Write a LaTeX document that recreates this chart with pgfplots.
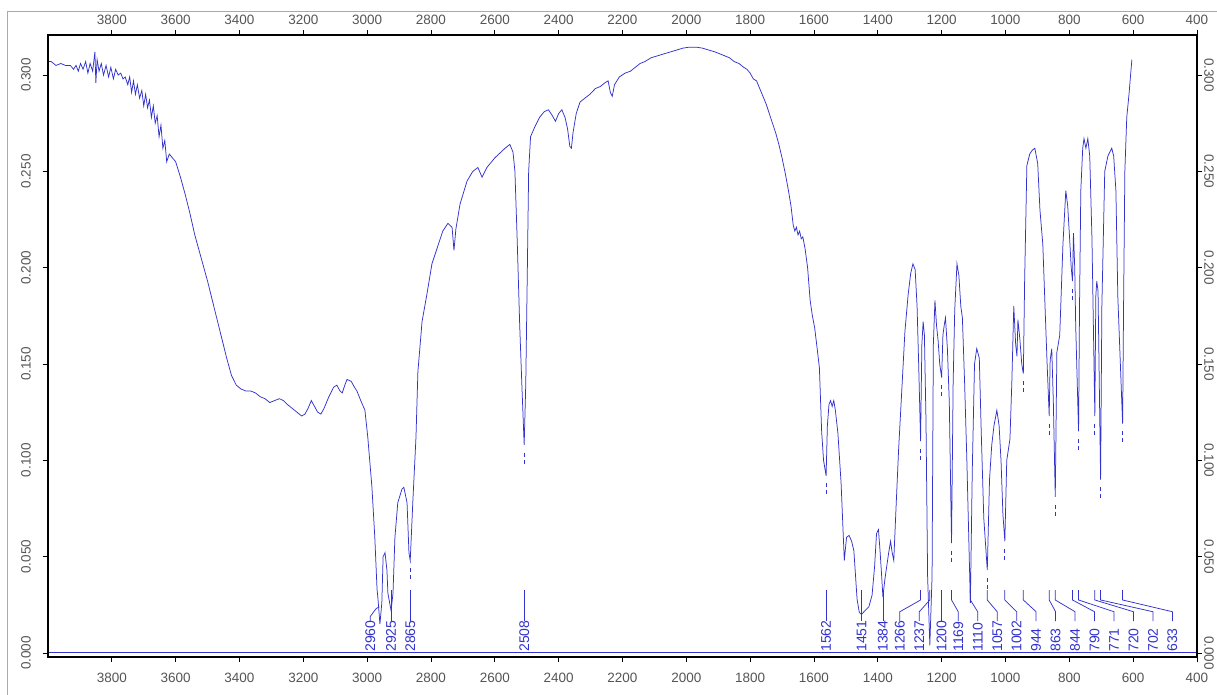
\documentclass[border=0pt]{standalone}
\usepackage{pgfplots}
\pgfplotsset{compat=1.18}
\usepackage{pgfplotstable}
\usepackage{fontspec}
\setmainfont{Liberation Sans}

\definecolor{specblue}{RGB}{50,50,205}
\definecolor{ticktext}{RGB}{85,85,85}
\definecolor{framegray}{RGB}{170,170,170}

% IR spectrum: wavenumber (cm^-1) and absorbance
\pgfplotstableread{
wn A
4000 0.307
3990 0.307
3975 0.305
3960 0.306
3945 0.305
3930 0.305
3920 0.303
3912 0.305
3905 0.302
3898 0.306
3890 0.303
3882 0.307
3875 0.301
3868 0.306
3860 0.302
3853 0.312
3850 0.296
3846 0.308
3840 0.302
3833 0.306
3826 0.300
3818 0.305
3810 0.299
3803 0.304
3795 0.298
3788 0.303
3780 0.300
3772 0.301
3765 0.298
3758 0.299
3750 0.295
3744 0.299
3738 0.291
3732 0.297
3726 0.290
3720 0.295
3713 0.288
3706 0.292
3700 0.284
3694 0.290
3688 0.283
3682 0.287
3676 0.278
3670 0.284
3664 0.275
3658 0.279
3652 0.268
3646 0.274
3640 0.262
3634 0.266
3628 0.255
3620 0.259
3610 0.257
3600 0.255
3585 0.247
3570 0.238
3555 0.228
3540 0.217
3525 0.208
3510 0.199
3500 0.193
3485 0.183
3470 0.173
3455 0.163
3440 0.153
3425 0.144
3410 0.139
3395 0.137
3380 0.136
3365 0.136
3350 0.135
3335 0.133
3320 0.132
3305 0.130
3290 0.131
3275 0.132
3262 0.131
3250 0.129
3235 0.127
3220 0.125
3205 0.123
3195 0.124
3185 0.127
3175 0.131
3165 0.128
3155 0.125
3145 0.124
3135 0.127
3120 0.133
3105 0.138
3095 0.139
3085 0.136
3078 0.135
3070 0.139
3063 0.142
3050 0.141
3040 0.138
3032 0.136
3020 0.131
3007 0.126
2998 0.112
2985 0.086
2976 0.060
2969 0.033
2966 0.028
2960 0.015
2954 0.026
2950 0.050
2944 0.052
2938 0.043
2935 0.031
2925 0.022
2919 0.031
2913 0.060
2904 0.078
2891 0.085
2885 0.086
2875 0.078
2869 0.052
2865 0.048
2857 0.078
2847 0.112
2841 0.146
2828 0.172
2813 0.186
2797 0.202
2781 0.210
2763 0.219
2747 0.223
2734 0.221
2728 0.209
2722 0.220
2709 0.233
2687 0.245
2669 0.250
2653 0.252
2640 0.247
2625 0.252
2600 0.257
2568 0.262
2553 0.264
2543 0.260
2537 0.250
2530 0.215
2522 0.170
2515 0.138
2508 0.108
2503 0.140
2498 0.200
2494 0.250
2488 0.268
2475 0.273
2460 0.278
2445 0.281
2432 0.282
2420 0.279
2410 0.276
2400 0.280
2390 0.282
2380 0.278
2372 0.272
2365 0.263
2360 0.262
2355 0.270
2345 0.280
2333 0.286
2318 0.288
2302 0.290
2285 0.293
2270 0.294
2255 0.296
2245 0.297
2238 0.291
2232 0.289
2225 0.295
2210 0.299
2192 0.301
2175 0.302
2160 0.304
2145 0.306
2130 0.307
2110 0.309
2090 0.310
2070 0.311
2050 0.312
2030 0.313
2010 0.314
1990 0.3145
1970 0.3145
1950 0.314
1930 0.313
1910 0.312
1895 0.311
1880 0.310
1865 0.309
1850 0.307
1835 0.306
1820 0.304
1810 0.303
1800 0.301
1790 0.298
1780 0.297
1770 0.293
1760 0.289
1750 0.285
1740 0.280
1730 0.275
1720 0.270
1710 0.264
1700 0.257
1690 0.249
1680 0.240
1672 0.232
1665 0.222
1660 0.219
1655 0.221
1650 0.217
1645 0.219
1640 0.215
1635 0.216
1628 0.210
1620 0.200
1612 0.183
1605 0.175
1598 0.169
1590 0.158
1583 0.148
1576 0.115
1570 0.100
1562 0.092
1558 0.118
1553 0.129
1548 0.131
1543 0.128
1538 0.131
1533 0.126
1525 0.114
1515 0.088
1505 0.048
1498 0.060
1490 0.061
1482 0.058
1475 0.053
1465 0.028
1458 0.021
1451 0.020
1440 0.022
1428 0.024
1418 0.030
1410 0.045
1404 0.062
1398 0.064
1393 0.053
1388 0.040
1384 0.029
1378 0.038
1372 0.045
1366 0.052
1360 0.058
1355 0.052
1350 0.048
1343 0.075
1335 0.105
1325 0.136
1315 0.167
1305 0.186
1297 0.197
1290 0.202
1283 0.199
1277 0.180
1272 0.150
1266 0.110
1262 0.160
1258 0.172
1254 0.165
1249 0.120
1244 0.040
1237 0.004
1230 0.040
1226 0.160
1221 0.183
1216 0.170
1211 0.162
1206 0.150
1200 0.143
1196 0.165
1192 0.170
1188 0.174
1182 0.158
1176 0.130
1169 0.057
1164 0.140
1159 0.178
1152 0.202
1146 0.196
1140 0.180
1135 0.174
1128 0.140
1121 0.100
1110 0.026
1104 0.095
1097 0.150
1090 0.158
1082 0.153
1076 0.115
1068 0.070
1057 0.043
1050 0.090
1043 0.108
1036 0.118
1027 0.126
1020 0.118
1014 0.100
1008 0.072
1002 0.058
996 0.100
986 0.111
980 0.141
974 0.180
968 0.160
964 0.154
961 0.173
955 0.163
949 0.150
944 0.145
940 0.193
933 0.253
924 0.259
916 0.261
908 0.262
899 0.254
892 0.230
883 0.212
875 0.175
870 0.152
863 0.123
860 0.152
855 0.158
850 0.130
844 0.081
839 0.156
830 0.165
820 0.212
811 0.240
805 0.232
799 0.215
794 0.200
790 0.193
787 0.218
783 0.200
780 0.170
771 0.115
768 0.180
764 0.240
758 0.262
754 0.267
748 0.262
742 0.267
736 0.258
729 0.215
720 0.123
717 0.185
714 0.193
710 0.188
702 0.090
698 0.180
689 0.250
679 0.258
667 0.262
661 0.258
654 0.240
648 0.185
633 0.119
630 0.180
626 0.250
620 0.278
613 0.290
604 0.308
}\spectrum

\pgfplotsset{
  irframe/.style={
    at={(48bp,38bp)}, anchor=south west,
    width=1149bp, height=622bp, scale only axis,
    x dir=reverse,
    xmin=400, xmax=4000,
    ymin=-0.0021, ymax=0.3208,
    xtick={400,600,...,3800},
    ytick={0,0.05,0.1,0.15,0.2,0.25,0.3},
    tick align=outside,
    tick pos=both,
    major tick length=5bp,
    minor tick num=0,
    axis line style={line width=1.6bp, black},
    major tick style={line width=0.8bp, black},
    /pgf/number format/assume math mode=true,
    tick label style={font=\fontsize{13.5bp}{16bp}\selectfont, text=ticktext, inner sep=0pt},
    xticklabel style={/pgf/number format/set thousands separator={}},
    yticklabel style={/pgf/number format/fixed, /pgf/number format/fixed zerofill,
                      /pgf/number format/precision=3},
    clip=false,
  }
}

\begin{document}
\begin{tikzpicture}
\useasboundingbox (0,0) rectangle (1217bp,695bp);
% light outer frame
\draw[framegray, line width=0.8bp] (7bp,0) -- (7bp,684bp) -- (1217bp,684bp);

% bottom / left tick labels and the spectrum
\begin{axis}[irframe,
  xticklabel pos=lower, yticklabel pos=left,
  xticklabel style={yshift=-11bp},
  yticklabel style={xshift=-12bp, rotate=90, anchor=south},
]
\addplot[specblue, line width=0.75bp] table[x=wn, y=A] {\spectrum};
% zero baseline
\addplot[specblue, line width=0.75bp] coordinates {(4000,0.0005) (400,0.0005)};

% peak markers beneath the absorption minima
\foreach \p/\v in {2865/0.048, 2508/0.108, 1562/0.092, 1266/0.110, 1200/0.143,
                   1169/0.057, 1057/0.043, 1002/0.058, 944/0.145, 863/0.123,
                   844/0.081, 790/0.193, 771/0.115, 720/0.123, 702/0.090, 633/0.119}{
  \edef\tmp{\noexpand\draw[specblue, line width=0.75bp, dash pattern=on 4bp off 3bp]
    (axis cs:\p,\v-0.004) -- (axis cs:\p,\v-0.011);}\tmp
}

% peak labels with straight leaders
\foreach \p in {2925, 2865, 2508, 1562, 1451, 1384, 1200}{
  \edef\tmp{\noexpand\draw[specblue, line width=0.75bp]
    (axis cs:\p,0.0165) -- (axis cs:\p,0.0326);
    \noexpand\node[rotate=90, anchor=west, inner sep=0pt, text=specblue,
      font=\noexpand\fontsize{14bp}{16bp}\noexpand\selectfont]
      at (axis cs:\p,0.0006) {\p};}\tmp
}
% 2960: leader bends onto the band
\draw[specblue, line width=0.75bp] (axis cs:2990,0.0165) -- (axis cs:2990,0.019)
  -- (axis cs:2972,0.023) -- (axis cs:2962,0.024);
\node[rotate=90, anchor=west, inner sep=0pt, text=specblue,
  font=\fontsize{14bp}{16bp}\selectfont] at (axis cs:2990,0.0006) {2960};

% peak labels with bent leaders (label position / band position)
\foreach \l/\p in {1331/1266, 1270/1237, 1148/1169, 1087/1110, 1026/1057,
                   965/1002, 904/944, 843/863, 782/844, 721/790, 660/771,
                   599/720, 538/702, 477/633}{
  \edef\tmp{\noexpand\draw[specblue, line width=0.75bp]
    (axis cs:\l,0.0165) -- (axis cs:\l,0.0214) -- (axis cs:\p,0.0275) -- (axis cs:\p,0.0326);
    \noexpand\node[rotate=90, anchor=west, inner sep=0pt, text=specblue,
      font=\noexpand\fontsize{14bp}{16bp}\noexpand\selectfont]
      at (axis cs:\l,0.0006) {\p};}\tmp
}
\end{axis}

% top / right tick labels
\begin{axis}[irframe,
  xticklabel pos=upper, yticklabel pos=right,
  xticklabel style={yshift=5bp},
  yticklabel style={xshift=2bp, rotate=-90, anchor=south},
]
\end{axis}
\end{tikzpicture}
\end{document}
